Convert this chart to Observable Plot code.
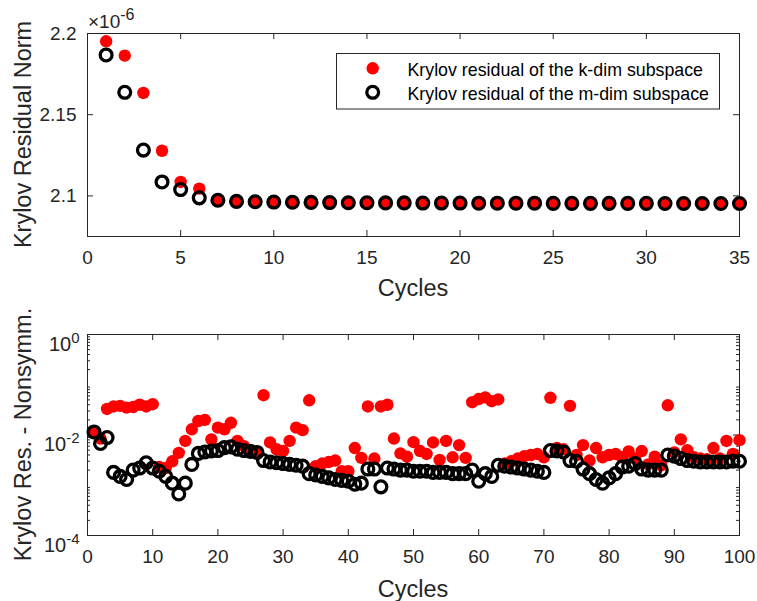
<!DOCTYPE html>
<html>
<head>
<meta charset="utf-8">
<script src="https://cdn.jsdelivr.net/npm/d3@7"></script>
<script src="https://cdn.jsdelivr.net/npm/@observablehq/plot@0.6"></script>
<style>
  html, body { margin: 0; padding: 0; background: #fff; }
  #fig { width: 757px; height: 601px; overflow: hidden; background: #fff; }
  #fig svg { display: block; }
</style>
</head>
<body>
<div id="fig"></div>
<script>
// ---------------- DATA ----------------
// Top panel (values in units of 1e-6)
const cyclesTop = [1,2,3,4,5,6,7,8,9,10,11,12,13,14,15,16,17,18,19,20,21,22,23,24,25,26,27,28,29,30,31,32,33,34,35];
const kDimTop = [2.1952,2.1864,2.1634,2.1278,2.1086,2.1045,2.0977,2.0968,2.0965,2.0963,2.0962,2.0961,2.0960,2.0959,2.0958,
                 2.0958,2.0957,2.0957,2.0956,2.0956,2.0956,2.0955,2.0955,2.0955,2.0955,2.0954,2.0954,2.0954,2.0954,2.0954,
                 2.0954,2.0953,2.0953,2.0953,2.0953];
const mDimTop = [2.1868,2.1638,2.1282,2.1086,2.1039,2.0988,2.0973,2.0966,2.0964,2.0962,2.0961,2.0960,2.0959,2.0958,2.0958,
                 2.0957,2.0957,2.0956,2.0956,2.0956,2.0955,2.0955,2.0955,2.0955,2.0954,2.0954,2.0954,2.0954,2.0954,2.0954,
                 2.0953,2.0953,2.0953,2.0953,2.0953];
const xTicksTop = [0,5,10,15,20,25,30,35];
const yTicksTop = [2.1,2.15,2.2];
const yDomainTop = [2.075,2.2];
const yExponentTop = "-6";

// Bottom panel
const cyclesBottom = [1,2,3,4,5,6,7,8,9,10,11,12,13,14,15,16,17,18,19,20,21,22,23,24,25,26,27,28,29,30,
  31,32,33,34,35,36,37,38,39,40,41,42,43,44,45,46,47,48,49,50,51,52,53,54,55,56,57,58,59,60,
  61,62,63,64,65,66,67,68,69,70,71,72,73,74,75,76,77,78,79,80,81,82,83,84,85,86,87,88,89,90,
  91,92,93,94,95,96,97,98,99,100];
const kDimBottom = [0.011,0.0085,0.033,0.037,0.038,0.035,0.036,0.040,0.037,0.041,
  0.0023,0.0022,0.0030,0.0044,0.0076,0.013,0.019,0.020,0.0082,0.014,
  0.013,0.0175,0.0076,0.006,0.005,0.0045,0.062,0.0071,0.0052,0.0048,
  0.0076,0.014,0.0125,0.049,0.0024,0.0027,0.0029,0.0031,0.0019,0.0019,
  0.0055,0.0035,0.037,0.0034,0.037,0.040,0.0085,0.0043,0.0037,0.0072,
  0.0048,0.0042,0.0071,0.0032,0.0076,0.0036,0.0063,0.0035,0.045,0.052,
  0.056,0.047,0.051,0.0027,0.0030,0.0034,0.0038,0.0040,0.0042,0.0036,
  0.055,0.0055,0.0052,0.038,0.0040,0.0063,0.0031,0.0055,0.0036,0.0040,
  0.0042,0.0036,0.0047,0.0034,0.0048,0.0026,0.0037,0.0025,0.039,0.0045,
  0.0082,0.0050,0.0036,0.0034,0.0033,0.0055,0.0034,0.0076,0.0042,0.0079];
const mDimBottom = [0.0115,0.0068,0.0089,0.0018,0.0015,0.0013,0.0020,0.0022,0.0028,0.0022,
  0.0019,0.0015,0.0011,0.00067,0.0011,0.0026,0.0043,0.0046,0.0048,0.0049,
  0.0056,0.0058,0.0052,0.0049,0.0047,0.0045,0.0031,0.0029,0.0028,0.0027,
  0.0026,0.0025,0.0024,0.0017,0.0016,0.0015,0.0014,0.0013,0.00125,0.0012,
  0.00105,0.0011,0.0021,0.0021,0.00093,0.0022,0.0021,0.0020,0.0020,0.0019,
  0.0019,0.0019,0.0018,0.0018,0.0018,0.0017,0.0017,0.0017,0.0020,0.0012,
  0.0017,0.0015,0.0025,0.0024,0.0023,0.0022,0.0021,0.0020,0.0019,0.0018,
  0.0049,0.0048,0.0046,0.0031,0.0030,0.0021,0.0017,0.0013,0.0011,0.0014,
  0.0017,0.0023,0.0024,0.0027,0.0021,0.0020,0.0020,0.0020,0.0040,0.0038,
  0.0034,0.0031,0.0030,0.0029,0.0029,0.0029,0.0029,0.0029,0.0030,0.0030];
const xTicksBottom = [0,10,20,30,40,50,60,70,80,90,100];
const yTicksBottom = [0.0001,0.01,1];
const yDomainBottom = [0.0001,1];

const seriesNames = ["Krylov residual of the k-dim subspace","Krylov residual of the m-dim subspace"];
const xLabel = "Cycles";
const yLabelTop = "Krylov Residual Norm";
const yLabelBottom = "Krylov Res. - Nonsymm.";

// ---------------- STYLE ----------------
const W = 757, ML = 87, MR = 18;
const AX = "#262626";
const FONT = "'Liberation Sans', Arial, Helvetica, sans-serif";
const RED = "#ff0000";
const R_DOT = 6.2, R_RING = 5.9, RING_W = 3.3;

function minorLogTicks(lo, hi) {
  const out = [];
  for (let e = Math.round(Math.log10(lo)); e < Math.round(Math.log10(hi)); e++) {
    for (let m = 2; m <= 9; m++) out.push(m * Math.pow(10, e));
  }
  return out;
}

function panel(o) {
  const ph = o.height - o.mt - o.mb;
  const pw = W - ML - MR;
  const tk = 6, tkm = 3;
  const dk = o.cycles.map((c, i) => ({c, v: o.k[i]}));
  const dm = o.cycles.map((c, i) => ({c, v: o.m[i]}));
  const marks = [
    Plot.frame({stroke: AX, strokeWidth: 1}),
    Plot.tickX(o.xTicks, {x: d => d, insetTop: ph - tk, stroke: AX}),
    Plot.tickX(o.xTicks, {x: d => d, insetBottom: ph - tk, stroke: AX}),
    Plot.tickY(o.yTicks, {y: d => d, insetRight: pw - tk, stroke: AX}),
    Plot.tickY(o.yTicks, {y: d => d, insetLeft: pw - tk, stroke: AX}),
  ];
  if (o.minor) {
    marks.push(
      Plot.tickY(o.minor, {y: d => d, insetRight: pw - tkm, stroke: AX}),
      Plot.tickY(o.minor, {y: d => d, insetLeft: pw - tkm, stroke: AX})
    );
  }
  marks.push(
    Plot.axisX({ticks: o.xTicks, tickSize: 0, tickPadding: 14, fontSize: 19, label: null}),
    Plot.axisY({ticks: o.yTicks, tickSize: 0, tickPadding: o.yPad, fontSize: 19, label: null, tickFormat: o.yFormat}),
    Plot.dot(dk, {x: "c", y: "v", r: R_DOT, fill: RED}),
    Plot.dot(dm, {x: "c", y: "v", r: R_RING, stroke: "#000", strokeWidth: RING_W, fill: "none"})
  );
  const svg = Plot.plot({
    width: W, height: o.height,
    marginLeft: ML, marginRight: MR, marginTop: o.mt, marginBottom: o.mb,
    style: {fontFamily: FONT, color: AX, background: "#fff", overflow: "visible"},
    x: {domain: o.xDomain},
    y: o.yScale,
    marks
  });
  const s = d3.select(svg);
  s.append("text")
    .attr("x", ML + pw / 2).attr("y", o.height - 4)
    .attr("text-anchor", "middle").attr("fill", AX)
    .style("font-family", FONT).style("font-size", "23.5px")
    .text(xLabel);
  s.append("text")
    .attr("transform", `translate(31,${o.mt + ph / 2}) rotate(-90)`)
    .attr("text-anchor", "middle").attr("fill", AX)
    .style("font-family", FONT).style("font-size", "23.5px")
    .text(o.yLabel);
  return svg;
}

const fig = document.getElementById("fig");

// ---------- top panel ----------
const topPanel = panel({
  height: 300, mt: 33, mb: 64,
  xDomain: [0, 35], xTicks: xTicksTop,
  yScale: {domain: yDomainTop}, yTicks: yTicksTop, yPad: 11,
  yFormat: d => String(d),
  cycles: cyclesTop, k: kDimTop, m: mDimTop,
  yLabel: yLabelTop
});
{
  const s = d3.select(topPanel);
  const t = s.append("text").attr("x", 88).attr("y", 28).attr("fill", AX)
    .attr("text-anchor", "start")
    .style("font-family", FONT).style("font-size", "19px");
  t.append("tspan").text("\u00d710");
  t.append("tspan").attr("dy", -8).style("font-size", "16px").text(yExponentTop);
  const lg = s.append("g").attr("text-anchor", "start");
  lg.append("rect").attr("x", 336.5).attr("y", 53.5).attr("width", 383).attr("height", 55.5)
    .attr("fill", "#fff").attr("stroke", AX).attr("stroke-width", 1);
  lg.append("circle").attr("cx", 372.7).attr("cy", 68.3).attr("r", R_DOT).attr("fill", RED);
  lg.append("circle").attr("cx", 372.7).attr("cy", 92.3).attr("r", R_RING)
    .attr("fill", "none").attr("stroke", "#000").attr("stroke-width", RING_W);
  seriesNames.forEach((name, i) => {
    lg.append("text").attr("x", 407.5).attr("y", 75.5 + i * 24.5).attr("fill", "#000")
      .attr("text-anchor", "start")
      .style("font-family", FONT).style("font-size", "17.8px").text(name);
  });
}
fig.appendChild(topPanel);

// ---------- bottom panel ----------
const bottomPanel = panel({
  height: 301, mt: 34, mb: 66,
  xDomain: [0, 100], xTicks: xTicksBottom,
  yScale: {type: "log", domain: yDomainBottom}, yTicks: yTicksBottom, yPad: 8,
  yFormat: d => String(Math.round(Math.log10(d))),
  minor: minorLogTicks(yDomainBottom[0], yDomainBottom[1]),
  cycles: cyclesBottom, k: kDimBottom, m: mDimBottom,
  yLabel: yLabelBottom
});
{
  const s = d3.select(bottomPanel);
  s.selectAll('g[aria-label="y-axis tick label"] text').each(function () {
    const el = d3.select(this);
    const exp = el.text();
    el.text("");
    el.attr("dy", "10");
    el.append("tspan").style("font-size", "20px").text("10");
    el.append("tspan").attr("dy", -8).style("font-size", "15px").text(exp);
  });
}
fig.appendChild(bottomPanel);
</script>
</body>
</html>
